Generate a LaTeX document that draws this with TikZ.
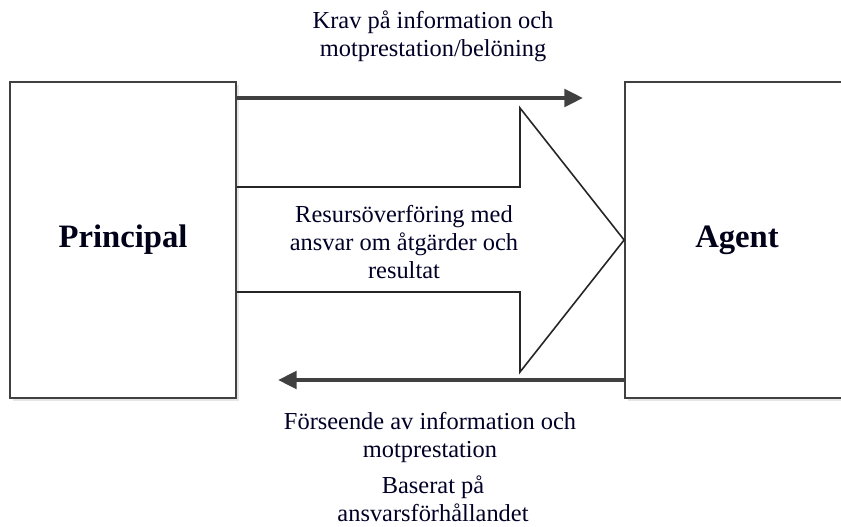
\documentclass[tikz,border=0pt]{standalone}
\usepackage{fontspec}
\setmainfont{Liberation Serif}
\usetikzlibrary{arrows.meta,positioning,shadows}
\tikzset{
  partybox/.style={rectangle,draw=black!75,line width=1.3pt,fill=white,minimum width=169.5pt,minimum height=237pt,inner sep=0pt,
    drop shadow={opacity=0.2,shadow xshift=2pt,shadow yshift=-2pt},font=\fontsize{24.5}{28}\selectfont\bfseries,text=black!90!blue},
  flowarrow/.style={draw=black!75,line width=3pt,-{Triangle[length=14pt,width=13pt]}},
  flowtext/.style={align=center,inner sep=0pt,font=\fontsize{18.3}{21}\selectfont,text=black!85!blue},
  every picture/.style={line cap=butt,line join=miter}
}
\begin{document}
\begin{tikzpicture}[x=0.75pt,y=-0.75pt]
  \useasboundingbox (0,0) rectangle (841,527);
  \node[partybox] (principal) at (123,240) {Principal};
  \node[partybox,minimum width=174pt] (agent) at (741,240) {\hspace*{-6pt}Agent};
  % top and bottom arrows
  \coordinate (topend) at (583,98);
  \coordinate (botend) at (278,380);
  \draw[flowarrow] (principal.east |- topend) -- (topend);
  \draw[flowarrow] (agent.west |- botend) -- (botend);
  % big arrow
  \draw[line width=1.2pt,black!85] (principal.east |- 0,187) -- (520,187) -- (520,108)
    -- (agent.west) -- (520,372) -- (520,292) -- (principal.east |- 0,292);
  \node[flowtext] (krav) at (433,36) {Krav på information och\\motprestation/belöning};
  \node[flowtext] (resurs) at (404,242) {Resursöverföring med\\ansvar om åtgärder och\\resultat};
  \node[flowtext] (forse) at (430,438) {Förseende av information och\\motprestation};
  \node[flowtext] (baserat) at (433,499) {Baserat på\\ansvarsförhållandet};
\end{tikzpicture}
\end{document}
